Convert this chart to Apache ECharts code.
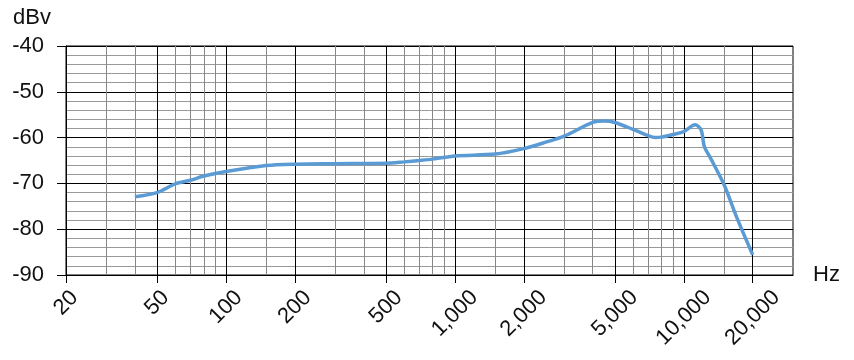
<!DOCTYPE html>
<html>
<head>
<meta charset="utf-8">
<script src="https://cdn.jsdelivr.net/npm/echarts@6/dist/echarts.min.js"></script>
<style>
html,body{margin:0;padding:0;background:#fff;}
#chart{width:854px;height:360px;}
</style>
</head>
<body>
<div id="chart"></div>
<script>
// Frequency response data (Hz, dBv)
const freqs = [40, 50, 60, 70, 80, 100, 150, 200, 300, 500, 600, 700, 800, 1000, 1500, 2000, 2500, 3000, 4000, 4500, 5000, 6000, 7000, 7500, 8000, 9000, 10000, 11200, 11900, 12300, 13000, 15000, 17000, 20000];
const dbv   = [-72.9, -72.0, -70.1, -69.3, -68.4, -67.4, -66.1, -65.8, -65.7, -65.6, -65.3, -65.0, -64.7, -64.0, -63.6, -62.4, -61.0, -59.7, -56.7, -56.4, -56.7, -58.2, -59.6, -60.0, -59.9, -59.3, -58.7, -57.2, -58.3, -62.0, -64.2, -70.3, -77.3, -85.6];
// Axis tick labels (Hz)
const xTickLabels = [20, 50, 100, 200, 500, 1000, 2000, 5000, 10000, 20000];
// Grid lines (Hz)
const majorGridFreqs = [50, 100, 200, 500, 1000, 2000, 5000, 10000, 20000];
const minorGridFreqs = [30, 40, 60, 70, 80, 90, 150, 300, 400, 600, 700, 800, 900, 1500, 3000, 4000, 6000, 7000, 8000, 9000, 15000];
const yMin = -90, yMax = -40, yStep = 10;

const FONT = 'Liberation Sans';
const chart = echarts.init(document.getElementById('chart'));

function vLines(list, color) {
  return list.map(v => ({ xAxis: v, lineStyle: { color: color, width: 1, type: 'solid' } }));
}

// rich styles: labels rotated about their centre, longer labels pushed lower
const labelRich = {};
[2, 3, 5, 6].forEach(n => {
  const pad = { 2: 0, 3: 6, 5: 15, 6: 21 }[n];
  labelRich['l' + n] = {
    fontFamily: FONT, fontSize: 22, color: '#111',
    padding: [pad, pad, 0, 0]
  };
});

chart.setOption({
  animation: false,
  title: {
    text: 'dBv', left: 8, top: 2,
    textStyle: { fontFamily: FONT, fontSize: 22, fontWeight: 'normal', color: '#111' }
  },
  grid: { left: 66, right: 61, top: 46, bottom: 85, show: true, borderColor: '#000', borderWidth: 1 },
  xAxis: {
    type: 'log', logBase: 10, min: 20, max: 30000,
    name: 'Hz', nameLocation: 'end', nameGap: 20,
    nameTextStyle: { fontFamily: FONT, fontSize: 22, color: '#111', verticalAlign: 'middle' },
    axisLine: { show: true, lineStyle: { color: '#000', width: 1 } },
    axisTick: { show: true, customValues: xTickLabels, length: 8, lineStyle: { color: '#000' } },
    axisLabel: {
      customValues: xTickLabels, rotate: 45, margin: 28,
      align: 'center', verticalAlign: 'middle',
      fontFamily: FONT, fontSize: 22, color: '#111',
      formatter: v => {
        const s = Number(v).toLocaleString('en-US');
        return '{l' + s.length + '|' + s + '}';
      },
      rich: labelRich
    },
    splitLine: { show: false }
  },
  yAxis: {
    type: 'value', min: yMin, max: yMax, interval: yStep,
    axisLine: { show: true, lineStyle: { color: '#000' } },
    axisTick: { show: true, length: 9, lineStyle: { color: '#000' } },
    axisLabel: { fontFamily: FONT, fontSize: 22, color: '#111', margin: 22 },
    splitLine: { show: true, lineStyle: { color: '#000', width: 1 } },
    minorTick: { show: false, splitNumber: 5 },
    minorSplitLine: { show: true, lineStyle: { color: '#999', width: 1 } }
  },
  series: [
    {
      type: 'line', data: [], silent: true, z: 1,
      markLine: {
        silent: true, symbol: ['none', 'none'], label: { show: false }, animation: false,
        data: vLines(minorGridFreqs, '#888').concat(vLines(majorGridFreqs, '#000'))
      }
    },
    {
      type: 'line', z: 5,
      data: freqs.map((f, i) => [f, dbv[i]]),
      smooth: 0.3, showSymbol: false, symbol: 'none',
      lineStyle: { color: '#5B9BD5', width: 3.5 }
    }
  ]
});
</script>
</body>
</html>
